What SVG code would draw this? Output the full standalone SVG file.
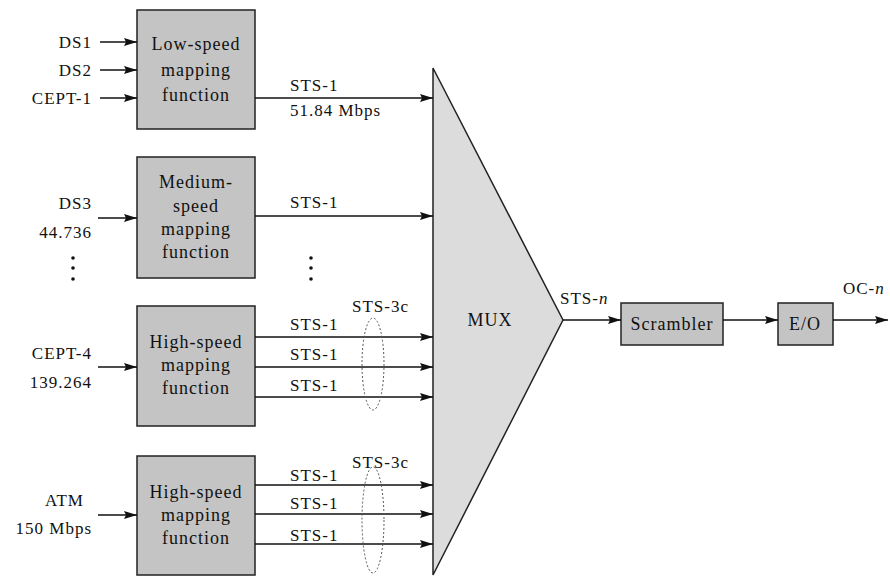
<svg xmlns="http://www.w3.org/2000/svg" width="890" height="577" viewBox="0 0 890 577">
<defs>
<marker id="ah" viewBox="0 0 13 8" refX="13" refY="4" markerWidth="13" markerHeight="8" markerUnits="userSpaceOnUse" orient="auto">
<path d="M0,0 L13,4 L0,8 L2,4 Z" fill="#111"/>
</marker>
<style>
.t{font-family:"Liberation Serif","Times New Roman",serif;font-size:17px;fill:#111;letter-spacing:1px}
.b{font-family:"Liberation Serif","Times New Roman",serif;font-size:18px;fill:#111;letter-spacing:1px;text-anchor:middle}
.r{text-anchor:end}
.m{text-anchor:middle}
.box{fill:#c4c4c4;stroke:#222;stroke-width:1.5}
.ln{stroke:#111;stroke-width:1.5;fill:none;marker-end:url(#ah)}
.el{fill:none;stroke:#555;stroke-width:1;stroke-dasharray:2,2}
</style>
</defs>
<rect width="890" height="577" fill="#fff"/>

<g id="inputs">
<text class="t r" x="92" y="48">DS1</text>
<text class="t r" x="92" y="76">DS2</text>
<text class="t r" x="92" y="104">CEPT-1</text>
<text class="t r" x="92" y="209">DS3</text>
<text class="t r" x="92" y="238">44.736</text>
<circle cx="73" cy="258" r="1.8" fill="#111"/>
<circle cx="73" cy="268" r="1.8" fill="#111"/>
<circle cx="73" cy="279" r="1.8" fill="#111"/>
<text class="t r" x="92" y="359">CEPT-4</text>
<text class="t r" x="92" y="388">139.264</text>
<text class="t r" x="84" y="506">ATM</text>
<text class="t r" x="92" y="534">150 Mbps</text>
</g>

<g id="low-speed">
<rect class="box" x="137" y="10" width="118" height="119"/>
<text class="b" x="196" y="50">Low-speed</text>
<text class="b" x="196" y="76">mapping</text>
<text class="b" x="196" y="101">function</text>
</g>

<g id="medium-speed">
<rect class="box" x="137" y="157" width="118" height="121"/>
<text class="b" x="196" y="188">Medium-</text>
<text class="b" x="196" y="212">speed</text>
<text class="b" x="196" y="235">mapping</text>
<text class="b" x="196" y="258">function</text>
</g>

<g id="high-speed-1">
<rect class="box" x="137" y="306" width="118" height="120"/>
<text class="b" x="196" y="348">High-speed</text>
<text class="b" x="196" y="371">mapping</text>
<text class="b" x="196" y="394">function</text>
</g>

<g id="high-speed-2">
<rect class="box" x="137" y="456" width="118" height="119"/>
<text class="b" x="196" y="498">High-speed</text>
<text class="b" x="196" y="521">mapping</text>
<text class="b" x="196" y="544">function</text>
</g>

<g id="mux">
<path d="M433,68 L563,320 L433,575 Z" fill="#dcdcdc" stroke="#222" stroke-width="1.5"/>
<text class="b" x="490" y="326">MUX</text>
</g>

<g id="scrambler">
<rect class="box" x="621" y="303" width="102" height="42"/>
<text class="b" x="672" y="330">Scrambler</text>
</g>

<g id="eo">
<rect class="box" x="778" y="303" width="55" height="42"/>
<text class="b" x="805" y="330">E/O</text>
</g>

<g id="connectors">
<line class="ln" x1="100" y1="42" x2="137" y2="42"/>
<line class="ln" x1="100" y1="70" x2="137" y2="70"/>
<line class="ln" x1="100" y1="98" x2="137" y2="98"/>
<line class="ln" x1="98" y1="218" x2="137" y2="218"/>
<line class="ln" x1="98" y1="367" x2="137" y2="367"/>
<line class="ln" x1="98" y1="515" x2="137" y2="515"/>

<line class="ln" x1="255" y1="98" x2="433" y2="98"/>
<line class="ln" x1="255" y1="216" x2="433" y2="216"/>
<line class="ln" x1="255" y1="337" x2="433" y2="337"/>
<line class="ln" x1="255" y1="367" x2="433" y2="367"/>
<line class="ln" x1="255" y1="397" x2="433" y2="397"/>
<line class="ln" x1="255" y1="485" x2="433" y2="485"/>
<line class="ln" x1="255" y1="514" x2="433" y2="514"/>
<line class="ln" x1="255" y1="544" x2="433" y2="544"/>

<line class="ln" x1="563" y1="320" x2="621" y2="320"/>
<line class="ln" x1="723" y1="320" x2="778" y2="320"/>
<line class="ln" x1="833" y1="320" x2="888" y2="320"/>

<ellipse class="el" cx="373" cy="364" rx="11" ry="46"/>
<ellipse class="el" cx="373" cy="520" rx="11" ry="53"/>

<text class="t" x="290" y="91">STS-1</text>
<text class="t" x="290" y="116">51.84 Mbps</text>
<text class="t" x="290" y="208">STS-1</text>
<circle cx="311" cy="258" r="1.8" fill="#111"/>
<circle cx="311" cy="268" r="1.8" fill="#111"/>
<circle cx="311" cy="279" r="1.8" fill="#111"/>
<text class="t" x="352" y="312">STS-3c</text>
<text class="t" x="290" y="330">STS-1</text>
<text class="t" x="290" y="360">STS-1</text>
<text class="t" x="290" y="391">STS-1</text>
<text class="t" x="352" y="468">STS-3c</text>
<text class="t" x="290" y="481">STS-1</text>
<text class="t" x="290" y="509">STS-1</text>
<text class="t" x="290" y="541">STS-1</text>
<text class="t" x="560" y="304">STS-<tspan font-style="italic">n</tspan></text>
<text class="t" x="843" y="294">OC-<tspan font-style="italic">n</tspan></text>
</g>
</svg>
